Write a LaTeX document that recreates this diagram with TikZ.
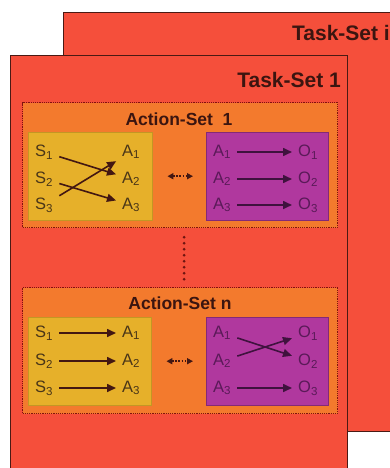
\documentclass[tikz,border=0pt]{standalone}
\usepackage{fontspec}
\setmainfont{Liberation Sans}
\usetikzlibrary{arrows.meta}
\definecolor{taskred}{HTML}{F54F3B}
\definecolor{actorange}{HTML}{F37A2D}
\definecolor{stateyellow}{HTML}{E6B02A}
\definecolor{outpurple}{HTML}{B0389E}
\definecolor{edgedark}{HTML}{4A1A14}
\definecolor{textbrown}{HTML}{4A3618}
\definecolor{textpurple}{HTML}{5A1A58}
\tikzset{
  taskbox/.style= {draw=edgedark, fill=taskred, line width=1.2pt, anchor=north west, inner sep=0},
  actbox/.style= {draw=edgedark!70!red, densely dotted, fill=actorange, line width=1.2pt, anchor=north west, inner sep=0},
  sbox/.style= {draw=stateyellow!85!black, fill=stateyellow, anchor=north west, inner sep=0},
  obox/.style= {draw=outpurple!75!black, fill=outpurple, anchor=north west, inner sep=0},
  slabel/.style= {text=textbrown, font=\fontsize{16.5}{19}\selectfont, inner xsep=6pt, inner ysep=2pt, anchor=west},
  olabel/.style= {slabel, text=textpurple},
  title/.style= {text=edgedark!80!black, font=\bfseries\fontsize{17.5}{21}\selectfont, inner sep=0},
  sarrow/.style= {draw=edgedark!90!black, line width=1.6pt, -{Triangle[length=9pt,width=8pt]}},
  oarrow/.style= {sarrow, draw=textpurple!70!black},
  pair/.style= {draw=edgedark!90!black, line width=1.6pt, dash pattern=on 1.6pt off 1.6pt, {Triangle[length=6pt,width=6pt]}-{Triangle[length=6pt,width=6pt]}, shorten <=15pt, shorten >=13pt},
}

\begin{document}
\begin{tikzpicture}[x=1pt, y=-1pt]
  \clip (0,0) rectangle (390,468);
  % task sets
  \node [taskbox, minimum width=340pt, minimum height=419pt] (tsi) at (63,12) {};
  \node [title, font=\bfseries\fontsize{21}{25}\selectfont, anchor=base east] (tsilabel) at (390,41) {Task-Set i};
  \node [taskbox, minimum width=337pt, minimum height=430pt] (ts1) at (10,55) {};
  \node [title, font=\bfseries\fontsize{21}{25}\selectfont, anchor=base east] (ts1label) at (341,88) {Task-Set 1};

  % action set 1
  \node [actbox, minimum width=315pt, minimum height=125pt] (as1) at (22,102) {};
  \node [title, anchor=base] (as1label) at (179,125) {Action-Set \ 1};
  \node [sbox, minimum width=124pt, minimum height=88pt] (ys1) at (28,132) {};
  \node [obox, minimum width=122pt, minimum height=88pt] (ps1) at (206,132) {};
  \foreach \i/\y in {1/152, 2/179, 3/205} {
    \node [slabel] (s1-\i) at (29,\y) {S\textsubscript{\i}};
    \node [slabel] (a1-\i) at (116,\y) {A\textsubscript{\i}};
    \node [olabel] (b1-\i) at (207,\y) {A\textsubscript{\i}};
    \node [olabel] (o1-\i) at (292,\y) {O\textsubscript{\i}};
    \draw [oarrow] (b1-\i) -- (o1-\i);
  }
  \draw [sarrow] (s1-1) -- (a1-2);
  \draw [sarrow] (s1-2) -- (a1-3);
  \draw [sarrow] (s1-3) -- (a1-1);
  \draw [pair] (ys1.east) -- (ps1.west);

  % action set n
  \node [actbox, minimum width=315pt, minimum height=126pt] (asn) at (22,287) {};
  \node [title, anchor=base] (asnlabel) at (180,309) {Action-Set n};
  \node [sbox, minimum width=123pt, minimum height=88pt] (ysn) at (28,317) {};
  \node [obox, minimum width=122pt, minimum height=88pt] (psn) at (206,317) {};
  \foreach \i/\y in {1/333, 2/361, 3/388} {
    \node [slabel] (sn-\i) at (29,\y) {S\textsubscript{\i}};
    \node [slabel] (an-\i) at (116,\y) {A\textsubscript{\i}};
    \node [olabel] (bn-\i) at (207,\y) {A\textsubscript{\i}};
    \node [olabel] (on-\i) at (292,\y) {O\textsubscript{\i}};
    \draw [sarrow] (sn-\i) -- (an-\i);
  }
  \draw [oarrow] (bn-1) -- (on-2);
  \draw [oarrow] (bn-2) -- (on-1);
  \draw [oarrow] (bn-3) -- (on-3);
  \draw [pair] (ysn.east) -- (psn.west);

  % dots between the action sets
  \draw [draw=edgedark!80!red, line width=3pt, line cap=round, dash pattern=on 0pt off 6pt, shorten <=9pt, shorten >=3pt]
    ([xshift=4pt]as1.south) -- ([xshift=4pt]asn.north);
\end{tikzpicture}
\end{document}
